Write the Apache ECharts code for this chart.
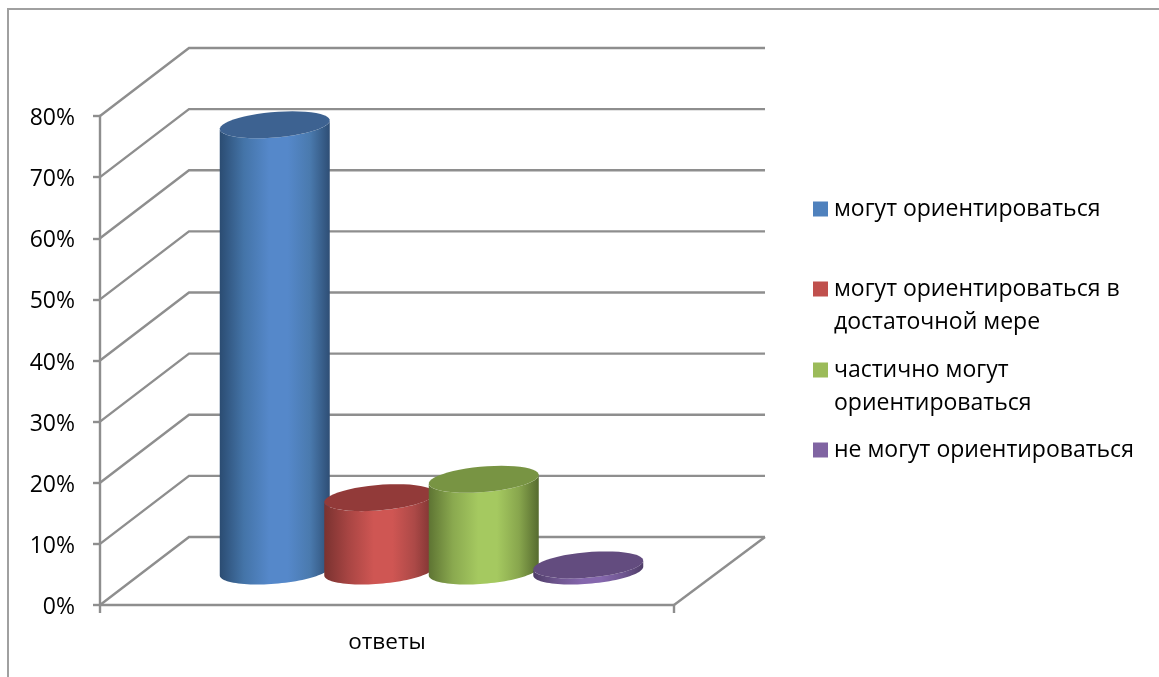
<!DOCTYPE html>
<html>
<head>
<meta charset="utf-8">
<style>html,body{margin:0;padding:0;background:#fff}#c{width:1159px;height:677px}</style>
<script src="https://cdn.jsdelivr.net/npm/echarts@6/dist/echarts.min.js"></script>
</head>
<body>
<div id="c"></div>
<script>
var categories = ['ответы'];
var seriesNames = ['могут ориентироваться', 'могут ориентироваться в\nдостаточной мере', 'частично могут\nориентироваться', 'не могут ориентироваться'];
var seriesValues = [73, 12, 15, 1];
var yTicks = [0, 10, 20, 30, 40, 50, 60, 70, 80];
var legendColors = ['#4f81bd', '#c0504d', '#9bbb59', '#8064a2'];
var topColors = ['#3d6291', '#923a39', '#789443', '#634c7f'];
var gradients = [
  ['#2b4c72', '#4474a8', '#5588ca', '#5588ca', '#4a7aae', '#2e4e75'],
  ['#7a3230', '#a84543', '#cf5653', '#cf5653', '#ac4947', '#7a3230'],
  ['#5e7433', '#8aa94f', '#a5c960', '#a5c960', '#88a64d', '#566b2f'],
  ['#4f3d68', '#6f5690', '#8567ad', '#8567ad', '#6f5690', '#4f3d68']
];

var FONT = '"Open Sans", sans-serif';
var GREY = '#8e8e8e';
var LINE_W = 2.4;
var DEPTH_X = 89, DEPTH_Y = -68;
var HALF_W = 55, HALF_D = 13.5, SPACING = 104.5;

function ellipsePts(cx, cy, t0, t1) {
  var vx = HALF_D * (-DEPTH_X / DEPTH_Y);
  var ux = Math.sqrt(HALF_W * HALF_W - vx * vx);
  var pts = [], n = 48;
  for (var k = 0; k <= n; k++) {
    var t = t0 + (t1 - t0) * k / n;
    pts.push([cx + ux * Math.cos(t) + vx * Math.sin(t), cy - HALF_D * Math.sin(t)]);
  }
  return pts;
}

function cylinderRenderer(idx) {
  return function (params, api) {
    var base = api.coord([0, 0]);
    var top = api.coord([0, api.value(1)]);
    var cx = base[0] + (idx - 1.5) * SPACING + DEPTH_X / 2;
    var by = base[1] + DEPTH_Y / 2, ty = top[1] + DEPTH_Y / 2;
    var vx = HALF_D * (-DEPTH_X / DEPTH_Y);
    var ux = Math.sqrt(HALF_W * HALF_W - vx * vx);
    var a = Math.atan2(vx, ux);
    var lowerBase = ellipsePts(cx, by, Math.PI + a, 2 * Math.PI + a);
    var upperTop = ellipsePts(cx, ty, 2 * Math.PI + a, Math.PI + a);
    var g = gradients[idx];
    var stops = [0, 0.22, 0.45, 0.62, 0.82, 1].map(function (o, i) { return { offset: o, color: g[i] }; });
    return {
      type: 'group',
      children: [
        { type: 'polygon', shape: { points: lowerBase.concat(upperTop) },
          style: { fill: new echarts.graphic.LinearGradient(0, 0, 1, 0, stops) } },
        { type: 'polygon', shape: { points: ellipsePts(cx, ty, 0, 2 * Math.PI) },
          style: { fill: topColors[idx] } }
      ]
    };
  };
}

function wallRenderer(params, api) {
  var p = api.coord([0, api.value(1)]);
  var size = api.size([1, 0]);
  var x0 = p[0] - size[0] / 2;
  var bx = x0 + DEPTH_X, by = p[1] + DEPTH_Y;
  var style = { stroke: GREY, lineWidth: LINE_W, fill: null };
  var kids = [
    { type: 'polyline', shape: { points: [[x0, p[1]], [bx, by], [bx + size[0] + 2, by]] }, style: style }
  ];
  if (api.value(1) === 0) {
    kids.push({ type: 'line', shape: { x1: x0 + size[0], y1: p[1], x2: bx + size[0] + 2, y2: by }, style: style });
  }
  return { type: 'group', children: kids };
}

var series = [{
  type: 'custom', name: 'walls', silent: true, z: 1,
  encode: { x: 0, y: 1 },
  renderItem: wallRenderer,
  data: yTicks.map(function (v) { return [0, v]; })
}];
seriesNames.forEach(function (name, i) {
  series.push({
    type: 'custom', name: name, z: 2 + i, silent: true,
    encode: { x: 0, y: 1 },
    itemStyle: { color: legendColors[i] },
    renderItem: cylinderRenderer(i),
    data: [[0, seriesValues[i]]]
  });
});

var SQUARE_ICON = 'path://M0,0H15V15H0Z';
var TALL_ICON = 'path://M0,0H15V15H0Z M0,48H0.01V48.01H0Z';
function legendFor(i, top, tall) {
  return {
    left: 813, top: top, orient: 'vertical', padding: 0, selectedMode: false,
    itemWidth: 15, itemHeight: tall ? 48 : 15,
    data: [{ name: seriesNames[i], icon: tall ? TALL_ICON : SQUARE_ICON }],
    textStyle: { fontFamily: FONT, fontSize: 23, color: '#000', lineHeight: 33, padding: [3, 0, 0, 1] }
  };
}

var chart = echarts.init(document.getElementById('c'), null, { renderer: 'canvas' });
chart.setOption({
  animation: false,
  backgroundColor: '#fff',
  grid: { left: 100, right: 485, top: 116, bottom: 72, containLabel: false },
  xAxis: {
    type: 'category', data: categories,
    axisLine: { lineStyle: { color: GREY, width: LINE_W } },
    axisTick: { show: true, length: 8, lineStyle: { color: GREY, width: LINE_W } },
    axisLabel: { fontFamily: FONT, fontSize: 22.5, color: '#000', margin: 26 }
  },
  yAxis: {
    type: 'value', min: 0, max: 80, interval: 10,
    axisLine: { show: true, lineStyle: { color: GREY, width: LINE_W } },
    axisTick: { show: true, length: 7, lineStyle: { color: GREY, width: LINE_W } },
    splitLine: { show: false },
    axisLabel: {
      formatter: '{v|{value}%}', margin: 25, color: '#000',
      rich: { v: { fontFamily: FONT, fontSize: 23, color: '#000', padding: [5, 0, 0, 0] } }
    }
  },
  legend: [legendFor(0, 191, false), legendFor(1, 271, true), legendFor(2, 352, true), legendFor(3, 432, false)],
  graphic: [
    { type: 'polyline', silent: true, shape: { points: [[1159, 9], [8, 9], [8, 677]] }, style: { stroke: '#a0a0a0', lineWidth: 2, fill: null } }
  ],
  series: series
});
</script>
</body>
</html>
